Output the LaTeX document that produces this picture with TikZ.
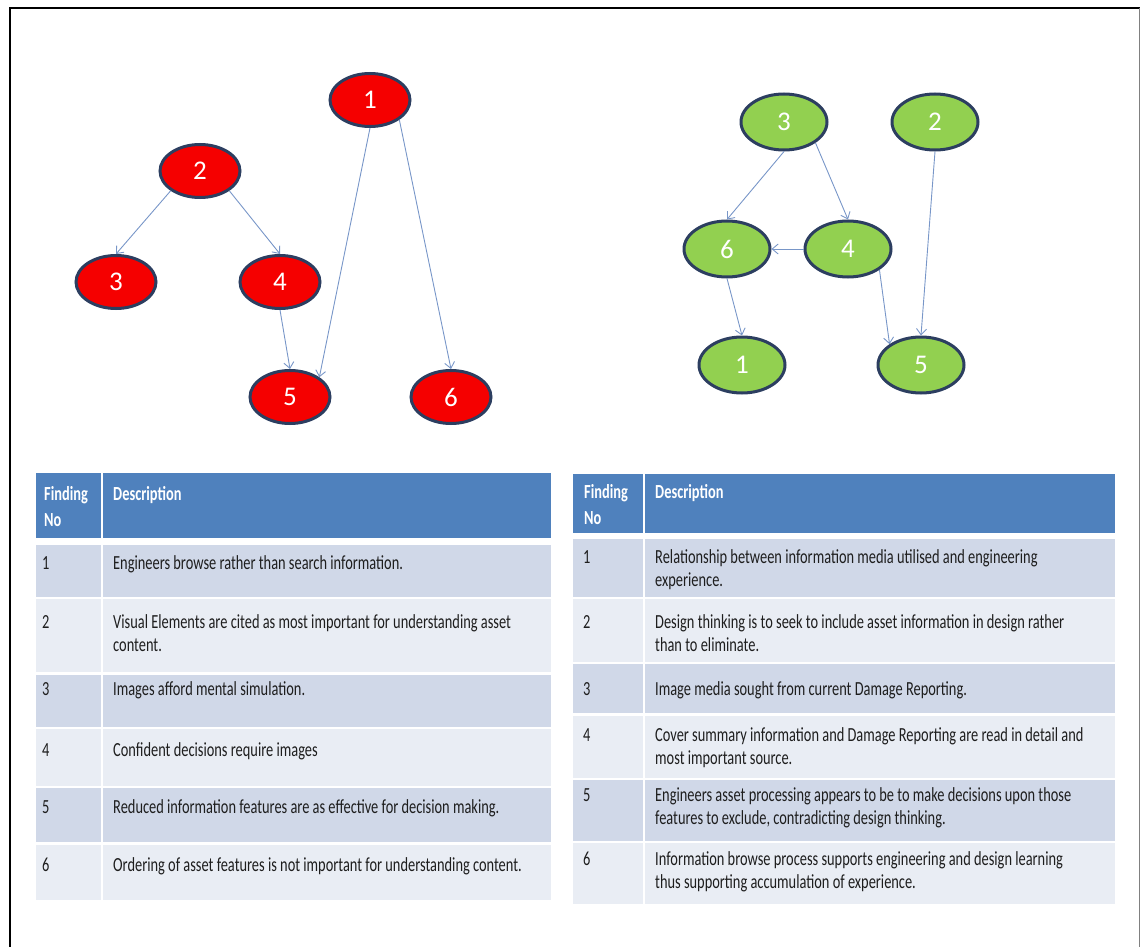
\documentclass[tikz,border=0pt]{standalone}
\usepackage{fontspec}
\setmainfont{Carlito}
\newfontfamily\cellfont[FakeStretch=0.72]{Carlito}
\usetikzlibrary{arrows.meta,shapes.geometric}
\definecolor{nodered}{RGB}{245,0,0}
\definecolor{nodegreen}{RGB}{146,208,80}
\definecolor{nodeline}{RGB}{44,62,96}
\definecolor{edgeblue}{RGB}{120,150,200}
\definecolor{hdrblue}{RGB}{79,129,189}
\definecolor{rowdark}{RGB}{208,216,232}
\definecolor{rowlight}{RGB}{233,237,244}
\definecolor{celltext}{RGB}{30,30,30}

\begin{document}
\begin{tikzpicture}[x=1pt,y=-1pt,
bubble/.style={ellipse,draw=nodeline,line width=3pt,inner sep=0pt,text=white,font=\fontsize{27}{27}\selectfont},
rnode/.style={bubble,fill=nodered,minimum width=80pt,minimum height=53pt},
gnode/.style={bubble,fill=nodegreen,minimum width=86pt,minimum height=56pt},
edge/.style={-{Straight Barb[length=6pt,width=10pt]},draw=edgeblue,line width=0.9pt},
cell/.style={anchor=base west,inner sep=0pt,align=left,text=celltext,font=\cellfont\fontsize{20}{23.5}\selectfont},
hcell/.style={cell,text=white,font=\cellfont\bfseries\fontsize{20}{26}\selectfont}
]
\useasboundingbox (0,0) rectangle (1141,947);
% frame
\draw[black,line width=2pt] (9.5,960) -- (9.5,8.5) -- (1139.5,8.5);
\draw[gray,line width=1pt] (1139.5,8.5) -- (1139.5,960);

% left graph
\node[rnode] (r1) at (370,100) {1};
\node[rnode] (r2) at (200,171) {2};
\node[rnode] (r3) at (116,282) {3};
\node[rnode] (r4) at (280,282) {4};
\node[rnode] (r5) at (290,397) {5};
\node[rnode] (r6) at (451,397) {6};
\draw[edge] (r2.south west) -- (r3.north);
\draw[edge] (r2.south east) -- (r4.north);
\draw[edge] (r4.south) -- (r5.north);
\draw[edge] (r1.south) -- (r5.north east);
\draw[edge] (r1.south east) -- (r6.north);

% right graph
\node[gnode] (g3) at (784,122) {3};
\node[gnode] (g2) at (935,122) {2};
\node[gnode] (g6) at (727,249) {6};
\node[gnode] (g4) at (848,249) {4};
\node[gnode] (g1) at (742,365) {1};
\node[gnode] (g5) at (921,365) {5};
\draw[edge] (g3.south) -- (g6.north);
\draw[edge] (g3.south east) -- (g4.north);
\draw[edge] (g4.west) -- (g6.east);
\draw[edge] (g6.south) -- (g1.north);
\draw[edge] (g4.south east) -- (g5.north west);
\draw[edge] (g2.south) -- (g5.north);

% left table (two-line cells sit on the baseline of their last line)
\fill[hdrblue] (36,473) rectangle (551,538);
\fill[rowdark] (36,545) rectangle (551,597);
\fill[rowlight] (36,599) rectangle (551,672);
\fill[rowdark] (36,675) rectangle (551,727);
\fill[rowlight] (36,729) rectangle (551,786);
\fill[rowdark] (36,788) rectangle (551,842);
\fill[rowlight] (36,845) rectangle (551,900);
\draw[white,line width=2pt] (102,473) -- (102,900);
\node[hcell] (lno) at (44,526) {Finding\\No};
\node[hcell] (ldesc) at (113,500) {Description};
\node[cell] (ln1) at (42,569) {1};
\node[cell] (ld1) at (113,569) {Engineers browse rather than search information.};
\node[cell] (ln2) at (42,628) {2};
\node[cell] (ld2) at (113,651.5) {Visual Elements are cited as most important for understanding asset\\content.};
\node[cell] (ln3) at (42,695) {3};
\node[cell] (ld3) at (113,695) {Images afford mental simulation.};
\node[cell] (ln4) at (42,756) {4};
\node[cell] (ld4) at (113,756) {Confident decisions require images};
\node[cell] (ln5) at (42,813) {5};
\node[cell] (ld5) at (113,813) {Reduced information features are as effective for decision making.};
\node[cell] (ln6) at (42,871) {6};
\node[cell] (ld6) at (113,871) {Ordering of asset features is not important for understanding content.};

% right table
\fill[hdrblue] (573,474) rectangle (1115,533);
\fill[rowdark] (573,539) rectangle (1115,597);
\fill[rowlight] (573,599) rectangle (1115,662);
\fill[rowdark] (573,664) rectangle (1115,713);
\fill[rowlight] (573,716) rectangle (1115,778);
\fill[rowdark] (573,780) rectangle (1115,841);
\fill[rowlight] (573,843) rectangle (1115,904);
\draw[white,line width=2pt] (644,474) -- (644,904);
\node[hcell] (rno) at (584,524) {Finding\\No};
\node[hcell] (rdesc) at (655,498) {Description};
\node[cell] (rn1) at (583,563) {1};
\node[cell] (rd1) at (655,586.5) {Relationship between information media utilised and engineering\\experience.};
\node[cell] (rn2) at (583,628) {2};
\node[cell] (rd2) at (655,651.5) {Design thinking is to seek to include asset information in design rather\\than to eliminate.};
\node[cell] (rn3) at (583,695) {3};
\node[cell] (rd3) at (655,695) {Image media sought from current Damage Reporting.};
\node[cell] (rn4) at (583,741) {4};
\node[cell] (rd4) at (655,764.5) {Cover summary information and Damage Reporting are read in detail and\\most important source.};
\node[cell] (rn5) at (583,801) {5};
\node[cell] (rd5) at (655,824.5) {Engineers asset processing appears to be to make decisions upon those\\features to exclude, contradicting design thinking.};
\node[cell] (rn6) at (583,865) {6};
\node[cell] (rd6) at (655,888.5) {Information browse process supports engineering and design learning\\thus supporting accumulation of experience.};
\end{tikzpicture}
\end{document}
